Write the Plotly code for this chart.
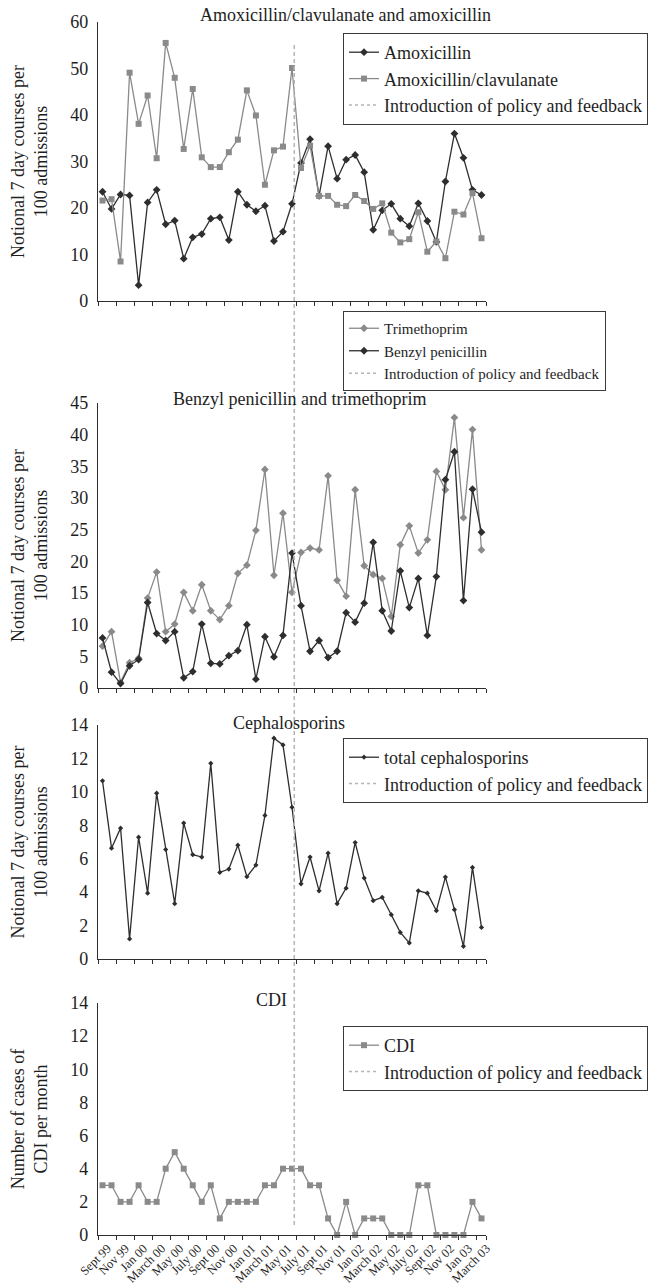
import plotly.graph_objects as go

months = ["Sept 99", "Oct 99", "Nov 99", "Dec 99", "Jan 00", "Feb 00", "March 00", "April 00",
          "May 00", "June 00", "July 00", "Aug 00", "Sept 00", "Oct 00", "Nov 00", "Dec 00",
          "Jan 01", "Feb 01", "March 01", "April 01", "May 01", "June 01", "July 01", "Aug 01",
          "Sept 01", "Oct 01", "Nov 01", "Dec 01", "Jan 02", "Feb 02", "March 02", "April 02",
          "May 02", "June 02", "July 02", "Aug 02", "Sept 02", "Oct 02", "Nov 02", "Dec 02",
          "Jan 03", "Feb 03", "March 03"]
tick_months = months[::2]

amoxicillin = [23.5, 19.8, 22.9, 22.7, 3.4, 21.2, 23.9, 16.5, 17.3, 9.1, 13.7, 14.4, 17.7, 18.0,
               13.1, 23.5, 20.7, 19.3, 20.5, 12.9, 14.9, 20.9, 29.7, 34.8, 22.6, 33.3, 26.3, 30.4,
               31.4, 27.7, 15.3, 19.5, 20.9, 17.7, 16.1, 21.0, 17.2, 12.7, 25.7, 36.0, 30.8, 23.9,
               22.8]
amox_clav = [21.6, 21.9, 8.5, 49.1, 38.1, 44.2, 30.7, 55.5, 48.0, 32.7, 45.6, 30.9, 28.8, 28.8,
             32.0, 34.7, 45.3, 39.9, 25.0, 32.4, 33.2, 50.1, 28.6, 33.4, 22.6, 22.6, 20.7, 20.4,
             22.8, 21.5, 19.8, 21.0, 14.7, 12.6, 13.3, 19.1, 10.6, 12.8, 9.2, 19.2, 18.6, 23.2,
             13.5]
trimethoprim = [6.6, 8.9, 0.9, 4.0, 4.7, 14.2, 18.3, 8.9, 10.1, 15.1, 12.2, 16.3, 12.2, 10.8,
                13.0, 18.1, 19.4, 24.9, 34.5, 17.8, 27.6, 15.1, 21.4, 22.1, 21.8, 33.5, 17.0, 14.5,
                31.3, 19.3, 17.9, 17.3, 11.3, 22.6, 25.6, 21.3, 23.4, 34.2, 31.3, 42.7, 26.9, 40.8,
                21.8]
benzyl_penicillin = [7.9, 2.5, 0.7, 3.5, 4.5, 13.5, 8.6, 7.5, 8.9, 1.6, 2.6, 10.1, 3.9, 3.8, 5.1,
                     5.9, 10.0, 1.4, 8.1, 4.9, 8.3, 21.3, 13.0, 5.8, 7.5, 4.8, 5.8, 11.9, 10.4,
                     13.4, 23.0, 12.2, 9.0, 18.5, 12.7, 17.3, 8.3, 17.6, 32.9, 37.3, 13.8, 31.4,
                     24.6]
cephalosporins = [10.66, 6.63, 7.83, 1.20, 7.29, 3.94, 9.92, 6.55, 3.31, 8.13, 6.24, 6.10, 11.71,
                  5.18, 5.38, 6.81, 4.92, 5.62, 8.59, 13.21, 12.81, 9.08, 4.50, 6.10, 4.08, 6.33,
                  3.31, 4.24, 6.97, 4.84, 3.49, 3.69, 2.65, 1.59, 0.96, 4.08, 3.94, 2.89, 4.90,
                  2.95, 0.76, 5.48, 1.89]
cdi_cases = [3, 3, 2, 2, 3, 2, 2, 4, 5, 4, 3, 2, 3, 1, 2, 2, 2, 2, 3, 3, 4, 4, 4, 3, 3, 1, 0, 2,
             0, 1, 1, 1, 0, 0, 0, 3, 3, 0, 0, 0, 0, 2, 1]

policy_position = 21.25  # between June 01 and July 01
policy_label = "Introduction of policy and feedback"
panel_titles = ["Amoxicillin/clavulanate and amoxicillin", "Benzyl penicillin and trimethoprim",
                "Cephalosporins", "CDI"]
y_titles = ["Notional 7 day courses per<br>100 admissions"] * 3 + ["Number of cases of<br>CDI per month"]

FONT = "Liberation Serif, Times New Roman, serif"
TEXT = "#1e1e1e"
DARK = "#2e2e2e"
GRAY = "#8a8a8a"
POLICY = "#b5b5b5"

fig = go.Figure()


def axis_names(k):
    return ("x" if k == 1 else f"x{k}"), ("y" if k == 1 else f"y{k}")


def add_series(k, y, name, color, symbol, size):
    xa, ya = axis_names(k)
    fig.add_trace(go.Scatter(
        x=months, y=y, name=name, mode="lines+markers",
        line=dict(color=color, width=1.3),
        marker=dict(symbol=symbol, size=size, color=color),
        xaxis=xa, yaxis=ya, cliponaxis=False,
        legend="legend" if k == 1 else f"legend{k}"))


def add_policy_entry(k):
    xa, ya = axis_names(k)
    fig.add_trace(go.Scatter(
        x=[None], y=[None], name=policy_label, mode="lines",
        line=dict(color=POLICY, width=1.5, dash="dot"),
        xaxis=xa, yaxis=ya,
        legend="legend" if k == 1 else f"legend{k}"))


add_series(1, amoxicillin, "Amoxicillin", DARK, "diamond", 6)
add_series(1, amox_clav, "Amoxicillin/clavulanate", GRAY, "square", 6)
add_policy_entry(1)
add_series(2, trimethoprim, "Trimethoprim", GRAY, "diamond", 6)
add_series(2, benzyl_penicillin, "Benzyl penicillin", DARK, "diamond", 6)
add_policy_entry(2)
add_series(3, cephalosporins, "total cephalosporins", DARK, "diamond", 4)
add_policy_entry(3)
add_series(4, cdi_cases, "CDI", GRAY, "square", 6)
add_policy_entry(4)

# figure pixel geometry
W, H = 655, 1288
plot_left, plot_right, plot_top, plot_bottom = 98, 486, 22, 1235
ph = plot_bottom - plot_top


def py(pix):
    return (plot_bottom - pix) / ph


def px(pix):
    return (pix - plot_left) / (plot_right - plot_left)


panels = [  # (top pixel, bottom pixel, y max, dtick)
    (22, 301, 60, 10),
    (403, 688, 45, 5),
    (725, 959, 14, 2),
    (1003, 1235, 14, 2),
]

layout = dict(
    width=W, height=H,
    margin=dict(l=plot_left, r=W - plot_right, t=plot_top, b=H - plot_bottom, autoexpand=False),
    paper_bgcolor="white", plot_bgcolor="white",
    font=dict(family=FONT, size=18, color=TEXT),
)

for i, (top, bot, ymax, dt) in enumerate(panels):
    k = i + 1
    sfx = "" if k == 1 else str(k)
    layout["xaxis" + sfx] = dict(
        domain=[0, 1], anchor="y" + sfx, type="category", automargin=False,
        categoryorder="array", categoryarray=months, range=[-0.5, len(months) - 0.5],
        tickmode="array", tickvals=tick_months, ticktext=tick_months,
        tickson="boundaries", ticks="outside", ticklen=4, tickwidth=1, tickcolor=DARK,
        showline=True, linecolor=DARK, linewidth=1.3, showgrid=False, zeroline=False,
        showticklabels=(k == 4), tickangle=-45, ticklabelshift=5, ticklabelstandoff=0,
        tickfont=dict(family=FONT, size=12.5, color=TEXT),
    )
    layout["yaxis" + sfx] = dict(
        domain=[py(bot), py(top)], anchor="x" + sfx, range=[0, ymax], dtick=dt,
        automargin=False,
        showline=True, linecolor=DARK, linewidth=1.3, showgrid=False, zeroline=False,
        ticks="", ticklabelstandoff=5,
        tickfont=dict(family=FONT, size=18, color=TEXT),
        title=dict(text=y_titles[i], font=dict(family=FONT, size=18, color=TEXT), standoff=17),
    )

legend_specs = [(33, 18), (311, 15), (738, 18), (1026, 18)]  # (top pixel, font size)
for i, (top, fs) in enumerate(legend_specs):
    k = i + 1
    key = "legend" if k == 1 else f"legend{k}"
    layout[key] = dict(
        x=px(343), y=py(top), xanchor="left", yanchor="top",
        bgcolor="white", bordercolor="#3a3a3a", borderwidth=1,
        font=dict(family=FONT, size=fs, color=TEXT), traceorder="normal",
    )

fig.update_layout(**layout)

# vertical policy line spanning all panels
fig.add_shape(type="line", xref="x4", yref="paper", x0=policy_position, x1=policy_position,
              y0=py(1225), y1=py(43), line=dict(color=POLICY, width=1.5, dash="4px,3px"))

title_pos = [(345, 15), (299, 399), (289, 723), (271, 1000)]
for t, (tx, ty) in zip(panel_titles, title_pos):
    fig.add_annotation(text=t, xref="paper", yref="paper", x=px(tx), y=py(ty),
                       xanchor="center", yanchor="middle", showarrow=False,
                       font=dict(family=FONT, size=18, color=TEXT))

fig.write_html("out.html", config={"displayModeBar": False},
               post_script="document.body.style.margin='0px';")
